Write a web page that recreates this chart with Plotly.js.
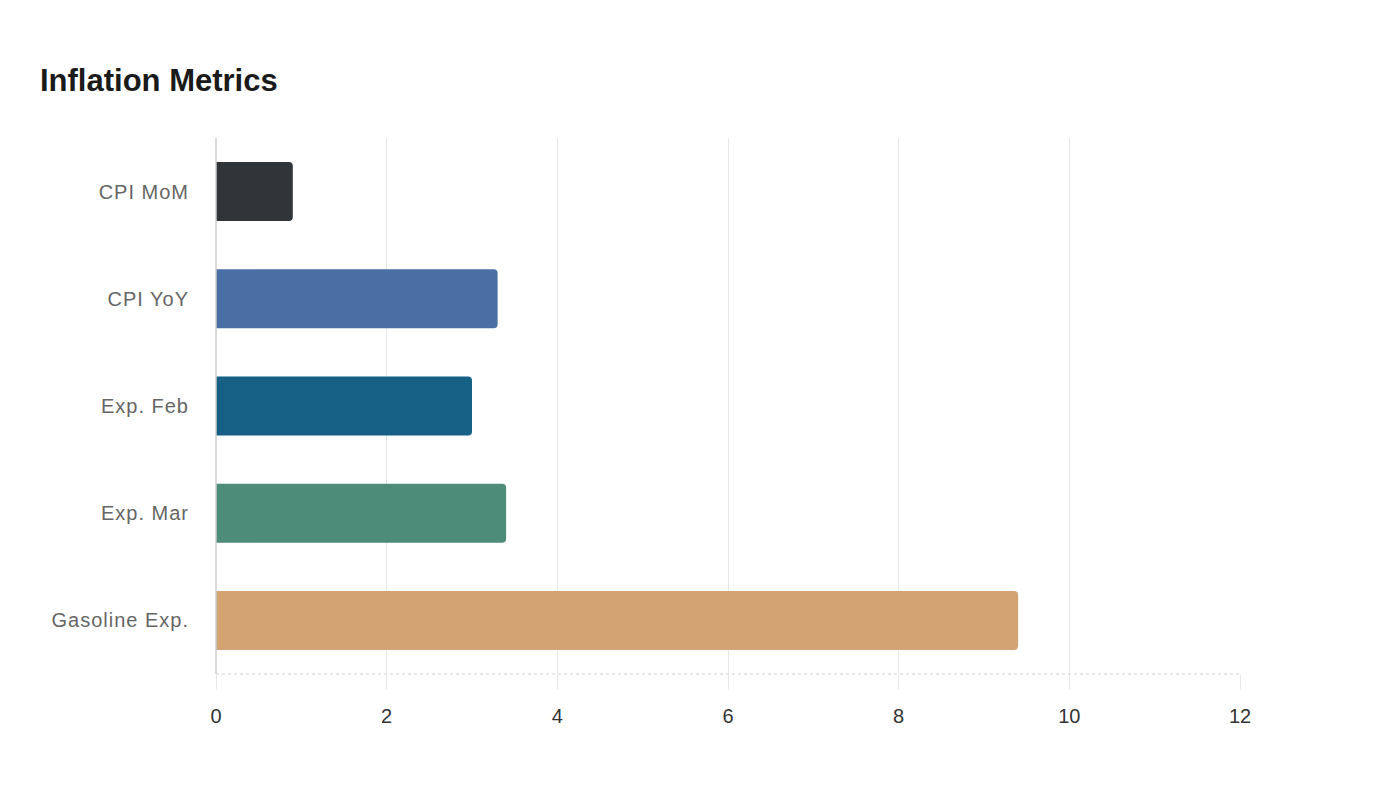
<!DOCTYPE html>
<html>
<head>
<meta charset="utf-8">
<script src="https://cdn.plot.ly/plotly-3.0.1.min.js"></script>
<style>
  html, body { margin: 0; padding: 0; background: #fff; }
  #chart { width: 1400px; height: 800px; }
  /* the reference labels are set a little wider than plain Arial */
  #chart .ytick text { letter-spacing: 1px; }
</style>
</head>
<body>
<div id="chart"></div>
<script>
// values
let categories = ['CPI MoM', 'CPI YoY', 'Exp. Feb', 'Exp. Mar', 'Gasoline Exp.']
let values = [0.9, 3.3, 3.0, 3.4, 9.4]
let colors = ['#2f3538', '#4a6fa5', '#166086', '#4e8c7a', '#d4a373']
let x_ticks = [0, 2, 4, 6, 8, 10, 12]

let font_family = '"Liberation Sans", Arial, sans-serif'

let graph_data = [
  {
    type: 'bar',
    orientation: 'h',
    y: categories,
    x: values,
    width: 0.55,
    marker: {
      color: colors,
      cornerradius: 4,
      line: {width: 0}
    },
    hoverinfo: 'skip'
  }
]

var layout = {
  width: 1400,
  height: 800,
  paper_bgcolor: '#ffffff',
  plot_bgcolor: '#ffffff',
  font: {family: font_family, size: 20, color: '#666666'},
  showlegend: false,
  margin: {l: 216, r: 160, t: 138, b: 126},
  title: {
    text: '<b>Inflation Metrics</b>',
    font: {family: font_family, size: 31, color: '#1a1a1a'},
    xref: 'container',
    yref: 'container',
    x: 40 / 1400,
    xanchor: 'left',
    y: 1 - 80 / 800,
    yanchor: 'middle'
  },
  xaxis: {
    range: [0, 12],
    tickvals: x_ticks,
    ticktext: x_ticks.map(String),
    showgrid: true,
    gridcolor: '#e6e6e6',
    gridwidth: 1,
    zeroline: false,
    showline: false,
    ticks: 'outside',
    ticklen: 14,
    tickcolor: '#e6e6e6',
    tickfont: {family: font_family, size: 20, color: '#333333'},
    ticklabelstandoff: 10,
    fixedrange: true
  },
  yaxis: {
    autorange: 'reversed',
    showgrid: false,
    zeroline: false,
    showline: false,
    ticks: '',
    tickfont: {family: font_family, size: 20, color: '#666666'},
    ticklabelstandoff: 26,
    fixedrange: true
  },
  shapes: [
    {
      type: 'line', xref: 'paper', yref: 'paper',
      x0: 0, x1: 1, y0: 0, y1: 0,
      line: {color: '#d0d0d0', width: 1, dash: 'dot'}
    },
    {
      type: 'line', xref: 'paper', yref: 'paper',
      x0: 0, x1: 0, y0: 0, y1: 1,
      line: {color: '#cccccc', width: 1.5}
    }
  ]
}

Plotly.newPlot('chart', graph_data, layout, {displayModeBar: false, staticPlot: true})
</script>
</body>
</html>
